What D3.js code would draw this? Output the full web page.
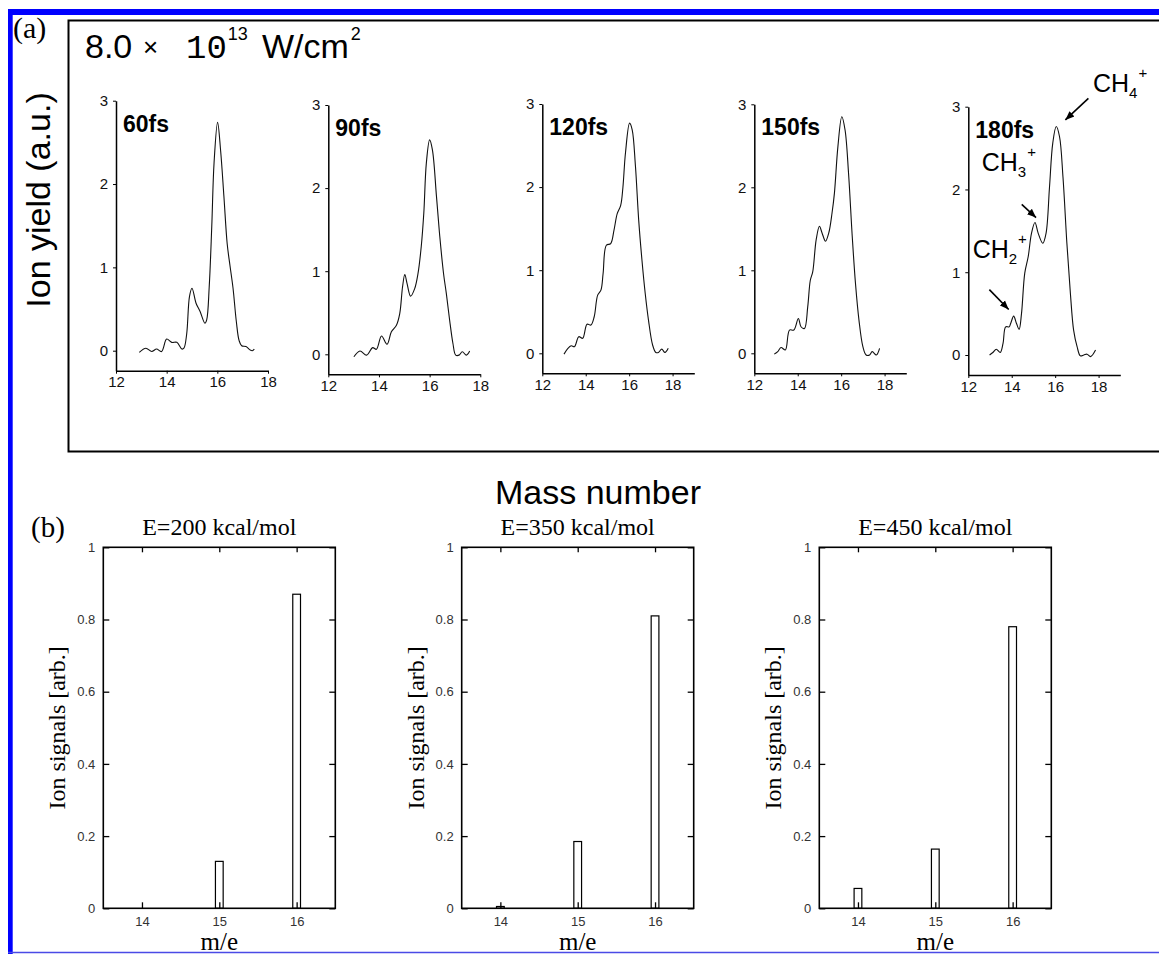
<!DOCTYPE html>
<html lang="en">
<head>
<meta charset="UTF-8">
<title>Ion yield vs mass number</title>
<script src="https://d3js.org/d3.v7.min.js"></script>
<style>
  body { margin: 0; background: #fff; }
  svg { display: block; }
  .sans { font-family: Arial, "Liberation Sans", sans-serif; }
  .serif { font-family: "Times New Roman", "Liberation Serif", serif; }
</style>
</head>
<body>
<div id="chart"></div>
<script>
// ---- data: part (a), measured ion yield curves [mass number, yield]
var pulseLabels = ["60fs", "90fs", "120fs", "150fs", "180fs"];
var massMax = [18, 18, 19, 19, 19];
var aXTicks = [12, 14, 16, 18];
var aYTicks = [0, 1, 2, 3];

var yield60fs = [[12.92,-0.02],[13.18,0.03],[13.41,-0.01],[13.6,0.02],[13.8,-0.01],[14.0,0.14],[14.2,0.1],[14.4,0.1],[14.6,0.02],[14.68,0.03],[14.79,0.2],[14.9,0.65],[15.0,0.75],[15.16,0.57],[15.32,0.47],[15.51,0.33],[15.58,0.37],[15.68,0.77],[15.78,1.49],[15.87,2.25],[16.01,2.74],[16.13,2.4],[16.26,1.85],[16.39,1.28],[16.5,1.02],[16.62,0.75],[16.75,0.35],[16.86,0.12],[16.96,0.06],[17.13,0.05],[17.29,0.01],[17.38,0],[17.46,0.02]];
var yield90fs = [[13.01,-0.03],[13.25,0.04],[13.51,-0.01],[13.75,0.08],[13.9,0.06],[14.1,0.22],[14.32,0.12],[14.49,0.27],[14.69,0.35],[14.82,0.49],[14.93,0.81],[15.02,0.96],[15.11,0.85],[15.25,0.7],[15.41,0.79],[15.54,0.97],[15.67,1.3],[15.77,1.7],[15.87,2.3],[16.0,2.58],[16.11,2.46],[16.27,1.9],[16.4,1.42],[16.55,0.97],[16.66,0.73],[16.79,0.41],[16.92,0.13],[17.03,-0.01],[17.16,-0.01],[17.29,0.03],[17.45,-0.01],[17.58,0.04]];
var yield120fs = [[13.0,-0.01],[13.18,0.06],[13.33,0.09],[13.48,0.08],[13.68,0.2],[13.86,0.18],[14.06,0.35],[14.24,0.34],[14.39,0.44],[14.55,0.7],[14.7,0.76],[14.8,0.96],[14.95,1.3],[15.15,1.32],[15.3,1.48],[15.45,1.68],[15.61,1.78],[15.71,1.99],[15.83,2.41],[16.02,2.77],[16.14,2.69],[16.29,2.25],[16.44,1.6],[16.59,1.12],[16.74,0.72],[16.89,0.4],[17.08,0.1],[17.23,0.01],[17.35,0.01],[17.5,0.05],[17.65,0.01],[17.8,0.06]];
var yield150fs = [[12.92,-0.01],[13.08,0.02],[13.23,0.07],[13.43,0.04],[13.62,0.28],[13.82,0.28],[14.03,0.42],[14.15,0.32],[14.31,0.3],[14.46,0.56],[14.58,0.88],[14.69,0.98],[14.85,1.37],[15.0,1.53],[15.12,1.45],[15.28,1.35],[15.43,1.45],[15.58,1.69],[15.69,1.93],[15.85,2.49],[16.03,2.85],[16.18,2.69],[16.34,2.17],[16.51,1.41],[16.66,0.84],[16.82,0.4],[17.0,0.08],[17.15,-0.02],[17.31,-0.02],[17.43,0.02],[17.62,-0.02],[17.77,0.06]];
var yield180fs = [[12.98,0],[13.13,0.03],[13.29,0.07],[13.47,0.03],[13.6,0.14],[13.72,0.34],[13.88,0.34],[13.95,0.38],[14.09,0.47],[14.22,0.38],[14.34,0.31],[14.45,0.5],[14.6,0.99],[14.76,1.19],[14.91,1.47],[15.07,1.6],[15.22,1.47],[15.43,1.35],[15.58,1.47],[15.74,2.03],[15.89,2.56],[16.05,2.76],[16.2,2.64],[16.36,2.15],[16.54,1.35],[16.7,0.75],[16.85,0.3],[17.01,0.1],[17.16,-0.01],[17.32,0],[17.47,0.01],[17.63,-0.02],[17.86,0.06]];
var yieldSeries = [yield60fs, yield90fs, yield120fs, yield150fs, yield180fs];

// ---- data: part (b), calculated ion signals
var energyTitles = ["E=200 kcal/mol", "E=350 kcal/mol", "E=450 kcal/mol"];
var bMass = [14, 15, 16];
var signals200 = [0, 0.13, 0.87];
var signals350 = [0.005, 0.185, 0.81];
var signals450 = [0.055, 0.164, 0.78];
var signalSeries = [signals200, signals350, signals450];
var bYTicks = [0, 0.2, 0.4, 0.6, 0.8, 1];
var bYLabels = ["0", "0.2", "0.4", "0.6", "0.8", "1"];

var W = 1159, H = 954;
var svg = d3.select("#chart").append("svg")
    .attr("width", W).attr("height", H);

// blue page border
svg.append("rect").attr("x", 8).attr("y", 9).attr("width", W - 8).attr("height", 6).attr("fill", "#0000ff");
svg.append("rect").attr("x", 8).attr("y", 9).attr("width", 4.7).attr("height", H - 9).attr("fill", "#0000ff");
svg.append("line").attr("x1", 8).attr("x2", W).attr("y1", 952.5).attr("y2", 952.5)
    .attr("stroke", "#4a4ae6").attr("stroke-width", 1.5);

// ================= part (a) =================
svg.append("path").attr("d", "M" + (W + 5) + ",20.5H68.5V451.5H" + (W + 5))
    .attr("fill", "none").attr("stroke", "#000").attr("stroke-width", 2);

svg.append("text").attr("class", "serif").attr("x", 13).attr("y", 38)
    .style("font-size", "30px").text("(a)");

var head = svg.append("text").attr("class", "sans").attr("y", 58).style("font-size", "34px");
head.append("tspan").attr("x", 85).text("8.0");
head.append("tspan").attr("x", 143).style("font-size", "26px").attr("dy", -2).text("\u00d7");
head.append("tspan").attr("x", 186).attr("dy", 2).style("font-family", "'Liberation Mono', monospace").text("10");
head.append("tspan").attr("dx", 1).attr("dy", -18).style("font-size", "18px").text("13");
head.append("tspan").attr("x", 262).attr("dy", 18).text("W/cm");
head.append("tspan").attr("dx", 2).attr("dy", -18).style("font-size", "18px").text("2");

svg.append("text").attr("class", "sans")
    .attr("transform", "translate(50,200) rotate(-90)")
    .attr("text-anchor", "middle").style("font-size", "34px").text("Ion yield (a.u.)");
svg.append("text").attr("class", "sans").attr("x", 598).attr("y", 504)
    .attr("text-anchor", "middle").style("font-size", "34px").text("Mass number");

var aLeft = [116, 328.3, 542.3, 754.3, 968.3];
var aTop = [100.7, 105, 104, 104.3, 106.7];     // y of value 3
var aZero = [350.7, 354.3, 353.3, 353.3, 355];  // y of value 0
var aWidth = 152;
var intFmt = d3.format("d");

var aScales = [];
pulseLabels.forEach(function(lab, i) {
  var unit = (aZero[i] - aTop[i]) / 3;
  var yMin = -20 / unit;
  var x = d3.scaleLinear().domain([12, massMax[i]]).range([aLeft[i], aLeft[i] + aWidth]);
  var y = d3.scaleLinear().domain([yMin, 3]).range([aZero[i] + 20, aTop[i]]);
  aScales.push({x: x, y: y});
  var g = svg.append("g");

  var gy = g.append("g").attr("transform", "translate(" + aLeft[i] + ",0)")
      .call(d3.axisLeft(y).tickValues(aYTicks).tickFormat(intFmt)
        .tickSizeInner(3).tickSizeOuter(0).tickPadding(5));
  var gx = g.append("g").attr("transform", "translate(0," + (aZero[i] + 20) + ")")
      .call(d3.axisBottom(x).tickValues(aXTicks).tickFormat(intFmt)
        .tickSizeInner(3).tickSizeOuter(0).tickPadding(3));
  [gy, gx].forEach(function(ax) {
    ax.attr("font-family", "Arial, 'Liberation Sans', sans-serif").attr("font-size", 15);
    ax.select(".domain").attr("stroke-width", 1.5);
    ax.selectAll("text").attr("fill", "#111");
  });

  g.append("path").datum(yieldSeries[i])
      .attr("fill", "none").attr("stroke", "#111").attr("stroke-width", 1.1)
      .attr("d", d3.line().x(function(d) { return x(d[0]); }).y(function(d) { return y(d[1]); })
        .curve(d3.curveCatmullRom.alpha(0.5)));

  g.append("text").attr("class", "sans").attr("x", aLeft[i] + 7).attr("y", aTop[i] + 31)
      .style("font-size", "23px").style("font-weight", "bold").text(lab);
});

// peak annotations on the 180fs panel
var s5 = aScales[4];
svg.append("defs").append("marker").attr("id", "arrow")
    .attr("viewBox", "0 0 10 10").attr("refX", 10).attr("refY", 5)
    .attr("markerWidth", 9).attr("markerHeight", 9).attr("markerUnits", "userSpaceOnUse")
    .attr("orient", "auto")
  .append("path").attr("d", "M0,1L10,5L0,9Z").attr("fill", "#000");

function arrow(x1, y1, x2, y2) {
  svg.append("line").attr("x1", s5.x(x1)).attr("y1", s5.y(y1)).attr("x2", s5.x(x2)).attr("y2", s5.y(y2))
      .attr("stroke", "#000").attr("stroke-width", 1.6).attr("marker-end", "url(#arrow)");
}
function ion(xv, yv, sub) {
  var t = svg.append("text").attr("class", "sans").attr("x", s5.x(xv)).attr("y", s5.y(yv))
      .style("font-size", "25px");
  t.append("tspan").text("CH");
  t.append("tspan").attr("dy", 6).style("font-size", "15px").text(sub);
  t.append("tspan").attr("dy", -20).attr("dx", 1).style("font-size", "15px").text("+");
}
arrow(17.53, 3.10, 16.47, 2.84);
ion(17.74, 3.18, "4");
arrow(14.46, 1.82, 15.12, 1.66);
ion(12.62, 2.22, "3");
arrow(12.97, 0.79, 13.86, 0.55);
ion(12.2, 1.17, "2");

// ================= part (b) =================
svg.append("text").attr("class", "serif").attr("x", 31).attr("y", 537)
    .style("font-size", "29px").text("(b)");

var bLeft = [103.3, 461.7, 819.3];
var bWidth = 232, bTop = 547.3, bBottom = 908.3;

energyTitles.forEach(function(title, i) {
  var x = d3.scaleLinear().domain([13.5, 16.5]).range([bLeft[i], bLeft[i] + bWidth]);
  var y = d3.scaleLinear().domain([0, 1]).range([bBottom, bTop]);
  var g = svg.append("g");
  var cx = bLeft[i] + bWidth / 2;
  var bw = x(14.05) - x(13.95);

  g.selectAll("rect.bar").data(signalSeries[i]).enter().append("rect")
      .attr("class", "bar")
      .attr("x", function(d, j) { return x(bMass[j]) - bw / 2; })
      .attr("y", function(d) { return y(d); })
      .attr("width", bw)
      .attr("height", function(d) { return y(0) - y(d); })
      .attr("fill", "#fff").attr("stroke", "#000").attr("stroke-width", 1.2);

  var axes = [
    g.append("g").attr("transform", "translate(" + bLeft[i] + ",0)")
      .call(d3.axisLeft(y).tickValues(bYTicks).tickSize(-6).tickPadding(8)
        .tickFormat(function(d, k) { return bYLabels[k]; })),
    g.append("g").attr("transform", "translate(" + (bLeft[i] + bWidth) + ",0)")
      .call(d3.axisRight(y).tickValues(bYTicks).tickSize(-6).tickFormat("")),
    g.append("g").attr("transform", "translate(0," + bTop + ")")
      .call(d3.axisTop(x).tickValues(bMass).tickSize(-5).tickFormat("")),
    g.append("g").attr("transform", "translate(0," + bBottom + ")")
      .call(d3.axisBottom(x).tickValues(bMass).tickFormat(intFmt).tickSize(-6).tickPadding(8))
  ];
  axes.forEach(function(ax) {
    ax.select(".domain").remove();
    ax.attr("font-family", "Arial, 'Liberation Sans', sans-serif").attr("font-size", 13);
    ax.selectAll("line").attr("stroke-width", 1.3);
    ax.selectAll("text").attr("fill", "#333");
  });

  g.append("rect").attr("x", bLeft[i]).attr("y", bTop).attr("width", bWidth).attr("height", bBottom - bTop)
      .attr("fill", "none").attr("stroke", "#000").attr("stroke-width", 1.6);

  g.append("text").attr("class", "serif").attr("x", cx).attr("y", 535)
      .attr("text-anchor", "middle").style("font-size", "24px").text(title);
  g.append("text").attr("class", "serif").attr("x", cx).attr("y", 950)
      .attr("text-anchor", "middle").style("font-size", "25px").text("m/e");
  g.append("text").attr("class", "serif")
      .attr("transform", "translate(" + (bLeft[i] - 38) + "," + ((bTop + bBottom) / 2) + ") rotate(-90)")
      .attr("text-anchor", "middle").style("font-size", "24px").text("Ion signals [arb.]");
});
</script>
</body>
</html>
